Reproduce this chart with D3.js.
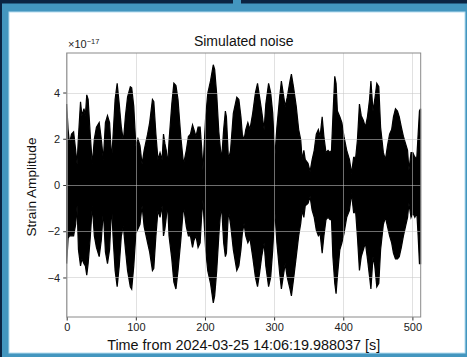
<!DOCTYPE html>
<html>
<head>
<meta charset="utf-8">
<script src="https://cdn.jsdelivr.net/npm/d3@7"></script>
<style>
  body { margin: 0; background: #0b2442; }
  svg { display: block; font-family: "Liberation Sans", Arial, sans-serif; }
</style>
</head>
<body>
<div id="chart"></div>
<script>
const ancho = 467;
const alto = 357;
const margen = { superior: 53, inferior: 40, izquierdo: 66.7, derecho: 46.3 };

// datos (envolvente de la senal, unidades 1e-17)
const tiempos = [0, 2, 4, 7, 10, 13, 15, 17, 20, 22, 25, 27, 29, 31, 34, 37, 40, 43, 47, 50,
  53, 56, 59, 62, 65, 67, 70, 73, 76, 79, 82, 85, 88, 92, 94, 97, 100, 103, 106, 109,
  112, 117, 120, 124, 126, 129, 132, 135, 138, 140, 142, 144, 146, 148, 152, 155, 158, 161, 165, 169,
  173, 176, 179, 182, 184, 187, 190, 193, 195, 197, 201, 204, 208, 212, 214, 217, 220, 222, 224, 227,
  229.5, 231, 234, 237, 241, 246, 249, 252, 254, 256.5, 259, 262, 265, 269, 273, 276, 279, 282, 285.5, 288,
  292, 295, 298, 301, 304, 308, 310.5, 313, 316, 319, 323, 325, 328, 332, 335.5, 338.5, 340.5, 343, 345, 349,
  352, 355, 358, 361, 364, 366.5, 369.5, 372, 375, 378, 381, 383, 385, 387.7, 389.6, 391.5, 395, 398, 401, 405,
  409, 412, 415, 418, 420.5, 423.4, 426, 429, 432, 435, 438, 440, 443, 445.6, 448.5, 451.4, 454, 458, 461, 464,
  467, 470, 472.6, 475.5, 478.4, 481, 484, 487, 490, 493, 495, 498, 500.6, 503.5, 506.4, 508.3, 510.2, 511.8];
const maximos = [3.5, 2.4, 1.8, 2.2, 2.3, 1.5, 0.9, 2.1, 3.6, 3.0, 3.3, 3.0, 3.9, 3.7, 2.2, 0.9, 2.0, 2.5, 2.7, 2.0,
  1.1, 2.7, 3.0, 2.7, 1.1, 2.1, 3.7, 4.4, 3.5, 2.5, 1.9, 3.0, 3.8, 4.25, 4.2, 3.4, 1.7, 2.0, 1.7, 0.9,
  1.5, 2.2, 2.7, 3.7, 3.6, 2.2, 1.1, 1.4, 1.1, 2.2, 1.8, 1.5, 0.9, 1.9, 3.5, 4.4, 4.3, 3.7, 2.1, 0.9,
  1.5, 2.1, 2.2, 2.6, 2.4, 2.1, 2.5, 2.5, 1.7, 0.65, 2.95, 3.95, 4.5, 5.2, 5.0, 3.9, 2.3, 1.66, 1.1, 2.4,
  3.2, 2.95, 1.1, 1.5, 3.1, 3.8, 3.7, 2.95, 2.2, 1.95, 2.4, 2.7, 2.4, 3.1, 4.0, 4.4, 3.8, 3.2, 2.4, 3.5,
  4.4, 4.0, 3.1, 1.2, 2.5, 3.8, 4.5, 4.0, 3.4, 3.8, 4.5, 4.8, 4.25, 3.4, 2.4, 1.95, 1.1, 1.5, 1.1, 0.94,
  0.58, 1.1, 1.5, 2.2, 2.4, 2.1, 2.95, 2.1, 1.4, 1.5, 1.4, 1.5, 2.95, 4.7, 4.4, 3.2, 2.95, 2.7, 2.1, 1.5,
  1.1, 0.5, 1.2, 1.2, 1.95, 3.5, 3.0, 2.8, 2.5, 2.95, 3.7, 4.5, 3.2, 3.7, 4.4, 4.25, 2.5, 1.4, 1.1, 1.7,
  2.2, 2.4, 2.95, 3.3, 3.2, 2.95, 2.5, 2.1, 1.8, 1.5, 0.65, 1.4, 1.4, 1.2, 1.2, 2.2, 3.2, 3.3];
const minimos = [-3.4, -2.3, -2.2, -2.2, -2.2, -1.7, -0.9, -2.8, -3.5, -3.2, -3.4, -3.5, -3.9, -3.4, -2.3, -0.9, -2.2, -2.7, -3.1, -2.4,
  -1.1, -2.9, -3.4, -2.8, -0.9, -2.2, -3.7, -4.4, -3.5, -2.2, -1.8, -2.8, -3.7, -4.4, -4.5, -3.5, -2.1, -1.9, -1.7, -0.9,
  -1.8, -2.5, -2.9, -3.7, -3.6, -2.2, -1.1, -1.4, -0.9, -2.2, -1.9, -1.4, -0.8, -2.2, -3.2, -4.2, -4.5, -3.7, -2.4, -0.9,
  -1.8, -2.2, -2.2, -2.7, -2.4, -2.2, -2.7, -2.5, -1.4, -0.65, -2.8, -3.7, -4.25, -5.1, -4.8, -3.7, -2.2, -1.4, -0.9, -2.5,
  -3.1, -2.95, -1.1, -1.7, -2.8, -3.7, -3.5, -2.8, -2.1, -1.66, -2.2, -2.5, -2.3, -3.1, -4.0, -4.4, -3.8, -3.1, -2.5, -3.5,
  -4.4, -4.0, -2.8, -1.1, -2.5, -3.8, -4.5, -4.0, -3.4, -4.0, -4.5, -4.8, -4.1, -3.1, -2.2, -1.66, -1.1, -1.4, -0.9, -0.8,
  -0.5, -1.1, -1.4, -1.95, -2.2, -2.1, -2.95, -2.2, -1.5, -1.4, -1.5, -1.5, -3.1, -4.25, -4.7, -3.96, -2.8, -2.5, -2.1, -1.4,
  -1.1, -0.36, -1.2, -1.2, -2.24, -3.7, -3.1, -2.8, -2.5, -3.2, -3.96, -4.5, -3.1, -3.5, -4.4, -4.25, -2.8, -1.7, -1.4, -1.8,
  -2.2, -2.5, -2.95, -3.2, -3.2, -3.1, -2.7, -2.2, -1.8, -1.4, -0.8, -1.4, -1.2, -1.4, -1.2, -2.2, -3.4, -3.4];

const ticksX = [0, 100, 200, 300, 400, 500];
const ticksY = [-4, -2, 0, 2, 4];
const titulo = "Simulated noise";
const etiquetaX = "Time from 2024-03-25 14:06:19.988037 [s]";
const etiquetaY = "Strain Amplitude";

const datos = tiempos.map((t, i) => ({ t: t, hi: maximos[i], lo: minimos[i] }));

const svg = d3.select("#chart").append("svg")
  .attr("width", ancho)
  .attr("height", alto);

// marco azul
svg.append("rect").attr("x", 0).attr("y", 0).attr("width", ancho).attr("height", alto).attr("fill", "#0b2442");
svg.append("rect").attr("x", 2).attr("y", 3.5).attr("width", ancho - 2).attr("height", alto - 3.5).attr("fill", "#4396bf");
svg.append("rect").attr("x", 233).attr("y", 0).attr("width", 8).attr("height", 5).attr("fill", "#4396bf");
svg.append("rect").attr("x", 9).attr("y", 12).attr("width", 456).attr("height", 341)
  .attr("fill", "#ffffff").attr("stroke", "#b5dcef").attr("stroke-width", 1);

const x = d3.scaleLinear().domain([0, 512]).range([margen.izquierdo, ancho - margen.derecho]);
const y = d3.scaleLinear().domain([-5.71, 5.71]).range([alto - margen.inferior, margen.superior]);

// senal
const area = d3.area()
  .x((d) => x(d.t))
  .y0((d) => y(d.lo))
  .y1((d) => y(d.hi));
svg.append("path")
  .datum(datos)
  .attr("fill", "#000")
  .attr("stroke", "#000")
  .attr("stroke-width", 1.2)
  .attr("stroke-linejoin", "miter")
  .attr("d", area);

// rejilla (encima de la senal)
const rejilla = svg.append("g").attr("stroke", "rgba(200,200,200,0.55)").attr("stroke-width", 1);
rejilla.selectAll(".gx").data(ticksX).enter().append("line")
  .attr("x1", (d) => Math.round(x(d)) + 0.5).attr("x2", (d) => Math.round(x(d)) + 0.5)
  .attr("y1", y.range()[1]).attr("y2", y.range()[0]);
rejilla.selectAll(".gy").data(ticksY).enter().append("line")
  .attr("y1", (d) => Math.round(y(d)) + 0.5).attr("y2", (d) => Math.round(y(d)) + 0.5)
  .attr("x1", x.range()[0]).attr("x2", x.range()[1]);

// ejes
const ejeX = d3.axisBottom(x).tickValues(ticksX).tickSize(3.5).tickPadding(3).tickFormat(d3.format("d"));
const ejeY = d3.axisLeft(y).tickValues(ticksY).tickSize(3.5).tickPadding(3)
  .tickFormat((d) => (d < 0 ? "\u2212" + Math.abs(d) : d));

const grupoX = svg.append("g").attr("transform", `translate(0, ${y.range()[0]})`).call(ejeX);
const grupoY = svg.append("g").attr("transform", `translate(${x.range()[0]}, 0)`).call(ejeY);
[grupoX, grupoY].forEach((g) => {
  g.select(".domain").remove();
  g.selectAll("line").attr("stroke", "#333");
  g.selectAll("text").attr("fill", "#222").style("font-size", "11px");
});

// borde
svg.append("rect")
  .attr("x", x.range()[0]).attr("y", y.range()[1])
  .attr("width", x.range()[1] - x.range()[0]).attr("height", y.range()[0] - y.range()[1])
  .attr("fill", "none").attr("stroke", "#8a8a8a").attr("stroke-width", 1);

// textos
svg.append("text")
  .attr("x", (x.range()[0] + x.range()[1]) / 2).attr("y", 46)
  .attr("text-anchor", "middle").attr("fill", "#111").style("font-size", "14px")
  .text(titulo);

svg.append("text")
  .attr("x", (x.range()[0] + x.range()[1]) / 2).attr("y", 350)
  .attr("text-anchor", "middle").attr("fill", "#111").style("font-size", "14.4px")
  .text(etiquetaX);

svg.append("text")
  .attr("transform", `translate(35.5, ${(y.range()[0] + y.range()[1]) / 2 + 2}) rotate(-90)`)
  .attr("text-anchor", "middle").attr("fill", "#111").style("font-size", "13.6px")
  .text(etiquetaY);

const exponente = svg.append("text")
  .attr("x", 68).attr("y", 47.5).attr("fill", "#222").style("font-size", "11px");
exponente.append("tspan").text("\u00d710");
exponente.append("tspan").attr("dy", -4).style("font-size", "7.5px").text("\u221217");
</script>
</body>
</html>
